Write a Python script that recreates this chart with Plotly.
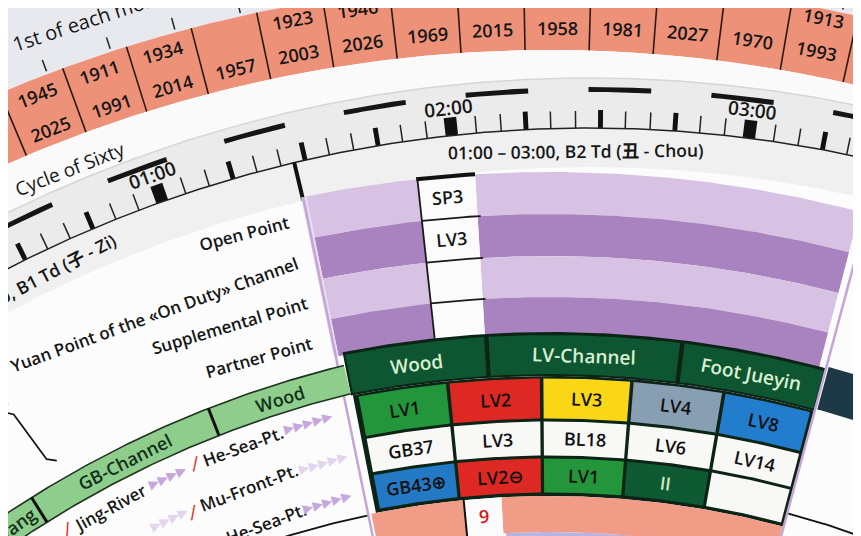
import numpy as np
import plotly.graph_objects as go

# ---------------- data ----------------
year_upper = ["1945", "1911", "1934", "", "1923", "1946", "", "", "", "", "", "", "1913", ""]
year_lower = ["2025", "1991", "2014", "1957", "2003", "2026", "1969", "2015", "1958", "1981", "2027", "1970", "1993", ""]
clock_hours = [1, 2, 3]
clock_labels = ["01:00", "02:00", "03:00"]
cycle_labels = ["23:00 – 01:00, B1 Td (子 - Zi)", "01:00 – 03:00, B2 Td (丑 - Chou)"]
point_labels = ["Open Point", "Yuan Point of the «On Duty» Channel", "Supplemental Point", "Partner Point"]
window_points = ["SP3", "LV3", "", ""]
lv_header = ["Wood", "LV-Channel", "Foot Jueyin"]
lv_row1 = ["LV1", "LV2", "LV3", "LV4", "LV8"]
lv_row2 = ["GB37", "LV3", "BL18", "LV6", "LV14"]
lv_row3 = ["GB43⊕", "LV2⊖", "LV1", "II", ""]
gb_header = ["Foot Shaoyang", "GB-Channel", "Wood"]
gb_row1 = ["Jing-River", "He-Sea-Pt."]
gb_row2 = ["Mu-Front-Pt."]
gb_row3 = ["He-Sea-Pt."]
hour_number = "9"
outer_caption = "1st of each month"
ring_caption = "Cycle of Sixty"

# ---------------- styles ----------------
FONT = "Open Sans, DejaVu Sans, Noto Sans CJK SC, sans-serif"
WT = 600
SALMON = "#ee9179"
PURPLE_L = "#d8c2e4"
PURPLE_D = "#a983bf"
LILAC = "#c3a6d6"
DARK = "#0b2416"
HEAD_GREEN = "#0e5532"
GB_GREEN = "#8fcd8c"
row_fill = [["#23963c", "#de2823", "#f9d616", "#889fb3", "#237dcd"],
            ["#f8f8f6"] * 5,
            ["#2379c4", "#de2823", "#23963c", "#0e5a32", "#f8f8f6"]]
row_text = [["#111111"] * 5, ["#111111"] * 5,
            ["#111111", "#111111", "#111111", "#cfe9c6", "#111111"]]

# ---------------- canvas / geometry (page pixels; the page body adds an 8px offset) ----------------
OFF = 8
W, H = 846, 528
X0, X1 = OFF, OFF + W
Y0, Y1 = OFF, OFF + H
C1 = (550.0, 1400.0)   # year ring, window, LV block
C2 = (589.0, 1400.0)   # clock disk
C3 = (597.0, 1400.0)   # GB disk

fig = go.Figure()


def pol(c, r, a):
    t = np.radians(a)
    return c[0] + r * np.sin(t), c[1] - r * np.cos(t)


def wedge(c, r0, r1, a0, a1):
    n = max(3, int(abs(a1 - a0) * 5) + 2)
    A = np.linspace(a0, a1, n)
    xo, yo = pol(c, r1, A)
    xi, yi = pol(c, r0, A[::-1])
    return np.r_[xo, xi, xo[:1]], np.r_[yo, yi, yo[:1]]


def arc(c, r, a0, a1):
    A = np.linspace(a0, a1, max(3, int(abs(a1 - a0) * 5) + 2))
    return pol(c, r, A)


def radial(c, r0, r1, a):
    return pol(c, np.array([r0, r1]), np.array([a, a]))


def add_polys(shapes, fill):
    xs, ys = [], []
    for x, y in shapes:
        xs += list(x) + [None]
        ys += list(y) + [None]
    fig.add_trace(go.Scatter(x=xs, y=ys, mode="lines", fill="toself", fillcolor=fill,
                             line=dict(width=0, color=fill), hoverinfo="skip", showlegend=False))


def add_lines(segs, color, w):
    xs, ys = [], []
    for x, y in segs:
        xs += list(x) + [None]
        ys += list(y) + [None]
    fig.add_trace(go.Scatter(x=xs, y=ys, mode="lines", line=dict(width=w, color=color),
                             hoverinfo="skip", showlegend=False))


def text(c, r, a, s, size=18, color="#161616", weight=WT, rot=None, family=FONT):
    if not s:
        return
    x, y = pol(c, r, a)
    fig.add_annotation(x=(x - X0) / W, y=(Y1 - y) / H, xref="paper", yref="paper",
                       text=s, showarrow=False, textangle=a if rot is None else rot,
                       xanchor="center", yanchor="middle",
                       font=dict(family=family, size=size, color=color, weight=weight))


def text_end(c, R, a_end, s, size=17, char_w=0.5):
    L = len(s) * size * char_w
    half = np.degrees(L / 2 / R)
    text(c, R * np.cos(np.radians(half)), a_end - half, s, size)


# ---------------- outer region & year ring ----------------
add_polys([wedge(C1, 1418, 1700, -45, 40)], "#e8e9ee")
step_y, a_y = 2.72, -20.1
add_lines([radial(C1, 1421, 1433, a_y - 0.65 + step_y * k) for k in range(-4, 15)], "#222222", 1.5)
add_polys([wedge(C1, 1350, 1418, -45, 40)], SALMON)
add_lines([radial(C1, 1350, 1418, a_y + step_y * k) for k in range(-4, 15)], "#2a1a14", 1.6)
for i, (u, l) in enumerate(zip(year_upper, year_lower)):
    a = a_y + step_y * (i - 0.5)
    text(C1, 1406 + 0.2 * a, a, u, 18)
    text(C1, 1372 + 0.3 * a, a, l, 18)
text(C1, 1455, -18.3, outer_caption, 20, weight=500)

# white ring between year ring and clock
add_polys([wedge(C1, 1290, 1350, -45, 40)], "#fafafa")
text(C1, 1321, -21.3, ring_caption, 19, weight=500)

# ---------------- clock disk ----------------
add_polys([wedge(C2, 1272, 1322, -45, 40)], "#ebebeb")
add_polys([wedge(C2, 1233, 1272, -45, 40)], "#f0f0f0")
add_lines([arc(C2, 1322, -45, 40)], "#d6d6d6", 1.5)
add_polys([wedge(C2, 1308, 1313, 1.35 + 5.38 * k - 1.37, 1.35 + 5.38 * k + 1.37) for k in range(-8, 5)], "#151515")


def hour_angle(h):
    return -6.19 + 13.41 * (h - 2)


big, mid, thin = [], [], []
for m in range(-60, 301, 5):
    a = hour_angle(m / 60)
    if m % 60 == 0:
        big.append(wedge(C2, 1272, 1290, a - 0.28, a + 0.28))
    elif m % 15 == 0:
        mid.append(wedge(C2, 1272, 1290, a - 0.11, a + 0.11))
    else:
        thin.append(radial(C2, 1272, 1289, a))
add_polys(big, "#111111")
add_polys(mid, "#111111")
add_lines(thin, "#222222", 1.5)
add_lines([arc(C2, 1272, -45, 40)], "#222222", 1.5)
for h, lab in zip(clock_hours, clock_labels):
    text(C2, 1300, hour_angle(h), lab, 19)
add_lines([radial(C2, 1233, 1272, -13.4 + 26.82 * k) for k in range(-1, 2)], "#111111", 4)
for j, lab in enumerate(cycle_labels):
    text(C2, 1249, -0.6 + 26.82 * (j - 1), lab, 17.5)

# ---------------- purple window ----------------
stripe_r = [1228, 1186, 1144, 1103, 1065]
for a0, a1 in [(-11.45, -6.2), (-3.5, 14.6)]:
    for s in range(4):
        add_polys([wedge(C1, stripe_r[s + 1], stripe_r[s], a0, a1)], PURPLE_L if s % 2 == 0 else PURPLE_D)
add_polys([wedge(C1, 1065, 1228, -11.7, -11.45)], "#e7daef")
add_polys([wedge(C1, 1065, 1228, -6.2, -3.5)], "#fbfbfb")
add_lines([arc(C1, r, -6.2, -3.35) for r in stripe_r[1:4]], "#1a1a1a", 1.8)
add_lines([arc(C1, 1228, -6.25, -3.5)], "#111111", 4)
add_lines([radial(C1, 1065, 1230, -6.2)], "#1a1a1a", 1.8)
for s, lab in enumerate(window_points):
    text(C1, (stripe_r[s] + stripe_r[s + 1]) / 2, -4.85, lab, 18)
for s, lab in enumerate(point_labels):
    text_end(C1, (stripe_r[s] + stripe_r[s + 1]) / 2, -12.7, lab, 17)

# ---------------- LV block ----------------
add_polys([wedge(C1, 1024, 1068, -11.2, 15.0)], DARK)
add_polys([wedge(C1, 904, 1024, -11.1, 15.0)], DARK)
head_b = [-11.2, -3.43, 7.14, 15.0]
for k, lab in enumerate(lv_header):
    add_polys([wedge(C1, 1026, 1065, head_b[k] + 0.12, head_b[k + 1] - 0.12)], HEAD_GREEN)
    text(C1, 1045, (head_b[k] + head_b[k + 1]) / 2, lab, 19, color="#d8f0cf")
cell_b = [-10.9, -5.75, -0.47, 4.6, 9.8, 14.85]
row_r = [(980, 1023), (943, 980), (906, 943)]
for ri, labels in enumerate([lv_row1, lv_row2, lv_row3]):
    r0, r1 = row_r[ri]
    for ci, lab in enumerate(labels):
        a0, a1 = cell_b[ci] + 0.1, cell_b[ci + 1] - 0.1
        add_polys([wedge(C1, r0 + 1.5, r1 - 1.5, a0, a1)], row_fill[ri][ci])
        text(C1, (r0 + r1) / 2, (a0 + a1) / 2, lab, 18, color=row_text[ri][ci])

# navy band to the right
add_polys([wedge(C1, 1026, 1070, 15.1, 40)], "#1d3946")

# bottom salmon ring seen through the window
add_polys([wedge(C1, 780, 868, -2.9, 14.3)], "#b6b3e5")
add_polys([wedge(C1, 868, 904, -11.4, -5.48), wedge(C1, 868, 904, -3.08, 14.9)], "#f09c86")
add_polys([wedge(C1, 850, 904, -5.48, -3.08)], "#fbfbfb")
add_lines([radial(C1, 850, 906, -5.48)], "#111111", 2)
text(C1, 886, -4.28, hour_number, 18, color="#d01818")
add_lines([arc(C1, 903, -25, -11.6)], "#111111", 1.8)
add_lines([arc(C1, 918, 15.0, 25)], "#111111", 1.8)

# window frame lines
add_lines([radial(C1, 860, 1228, -11.6), radial(C1, 860, 1228, 14.98)], LILAC, 2.5)

# ---------------- GB disk ----------------
add_polys([wedge(C3, 1036, 1065, -45, -13.75)], GB_GREEN)
add_lines([arc(C3, 1065, -45, -13.75), arc(C3, 1036, -45, -13.75)], "#1f3320", 1.6)
gb_b = [-39.6, -32.07, -21.4, -13.75]
add_lines([radial(C3, 1036, 1065, a) for a in gb_b[:3]], "#111111", 3)
for k, lab in enumerate(gb_header):
    text(C3, 1050, (gb_b[k] + gb_b[k + 1]) / 2, lab, 18, color="#12301a")

ARROW_M = "#c8a8dc"
ARROW_F = "#e3d5ed"
RED = "#e0301e"
AF = "DejaVu Sans"
# row 1
text(C3, 1017, -28.6, gb_row1[0], 17)
text(C3, 1019, -24.95, "▶▶▶▶", 13, color=ARROW_M, weight=400, family=AF)
text(C3, 1020, -23.2, "|", 16, color=RED, rot=-23.2 + 35)
text(C3, 1020, -31.3, "|", 16, color=RED, rot=-31.3 + 35)
text(C3, 1017, -20.4, gb_row1[1], 17)
text(C3, 1019, -16.5, "▶▶▶▶▶", 13, color=ARROW_M, weight=400, family=AF)
# row 2
text(C3, 980, -25.9, "▶▶▶▶", 13, color=ARROW_F, weight=400, family=AF)
text(C3, 976, -24.4, "|", 16, color=RED, rot=-24.4 + 35)
text(C3, 977, -20.87, gb_row2[0], 17)
text(C3, 977, -16.3, "▶▶▶▶▶", 13, color=ARROW_F, weight=400, family=AF)
# row 3
text(C3, 939, -25.9, "▶▶▶▶", 13, color=ARROW_F, weight=400, family=AF)
text(C3, 937, -20.7, gb_row3[0], 17)
text(C3, 938, -16.7, "▶▶▶▶▶", 13, color=ARROW_M, weight=400, family=AF)

# bracket at the far left
bx, by = pol(C1, np.array([1061, 1067, 1122, 1129, 1134, 1141]),
             np.array([-27.7, -28.15, -28.55, -28.95, -28.6, -28.95]))
add_lines([(bx, by)], "#151515", 1.8)

# ---------------- layout ----------------
fig.update_xaxes(range=[X0, X1], visible=False, showgrid=False, zeroline=False, fixedrange=True)
fig.update_yaxes(range=[Y1, Y0], visible=False, showgrid=False, zeroline=False, fixedrange=True)
fig.update_layout(width=W, height=H, margin=dict(l=0, r=0, t=0, b=0),
                  paper_bgcolor="white", plot_bgcolor="#fcfcfc", showlegend=False)
fig.write_html("out.html")
